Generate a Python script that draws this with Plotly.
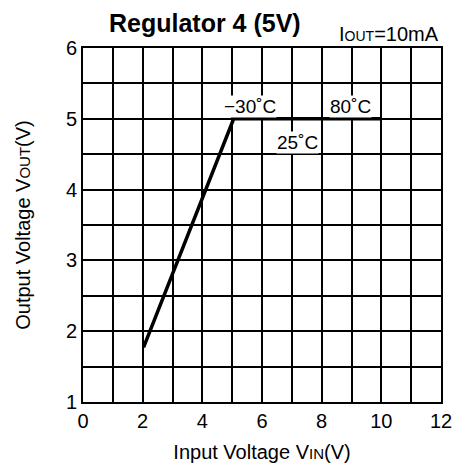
import plotly.graph_objects as go

vin = [2.03, 5.05, 10.0]
vout = [1.77, 5.0, 5.0]

labels = ["\u221230\u02daC", "80\u02daC", "25\u02daC"]
label_x = [5.6, 8.95, 7.2]
label_y = [5.17, 5.17, 4.66]

FONT = "Liberation Sans, Arial, sans-serif"

fig = go.Figure()
fig.add_trace(go.Scatter(x=vin, y=vout, mode="lines",
                         line=dict(color="black", width=3.5),
                         showlegend=False, hoverinfo="skip"))
for t, x, y in zip(labels, label_x, label_y):
    fig.add_annotation(x=x, y=y, text=t, showarrow=False,
                       font=dict(family=FONT, size=19, color="black"),
                       bgcolor="white", borderpad=0)

fig.add_annotation(x=0.34, y=1, xref="paper", yref="paper", yshift=9,
                   text="<b>Regulator 4 (5V)</b>", showarrow=False,
                   xanchor="center", yanchor="bottom",
                   font=dict(family=FONT, size=25, color="black"))
fig.add_annotation(x=1, y=1, xref="paper", yref="paper", yshift=1,
                   text="I<span style='font-size:14px'>OUT</span>=10mA", showarrow=False,
                   xanchor="right", yanchor="bottom",
                   font=dict(family=FONT, size=20, color="black"))

axis_common = dict(showline=True, linecolor="black", linewidth=2, mirror=True,
                   showgrid=True, gridcolor="black", gridwidth=1.5,
                   ticks="", zeroline=False, ticklabeloverflow="allow",
                   automargin=False,
                   tickfont=dict(family=FONT, size=20, color="black"))

fig.update_xaxes(range=[0, 12], dtick=2, tick0=0,
                 minor=dict(dtick=1, showgrid=True, gridcolor="black", gridwidth=1.5),
                 title=dict(text="Input Voltage V<span style='font-size:15px'>IN</span>(V)",
                            font=dict(family=FONT, size=20, color="black"), standoff=14),
                 **axis_common)
fig.update_yaxes(range=[1, 6], dtick=1, tick0=1,
                 minor=dict(dtick=0.5, showgrid=True, gridcolor="black", gridwidth=1.5),
                 title=dict(text="Output Voltage V<span style='font-size:15px'>OUT</span>(V)",
                            font=dict(family=FONT, size=20, color="black"), standoff=30),
                 **axis_common)

fig.update_layout(width=452, height=466,
                  margin=dict(l=83, r=11, t=48, b=64),
                  plot_bgcolor="white", paper_bgcolor="white")

fig.write_html("out.html", config={"displayModeBar": False},
               post_script="document.body.style.margin='0';document.body.style.overflow='hidden';")
